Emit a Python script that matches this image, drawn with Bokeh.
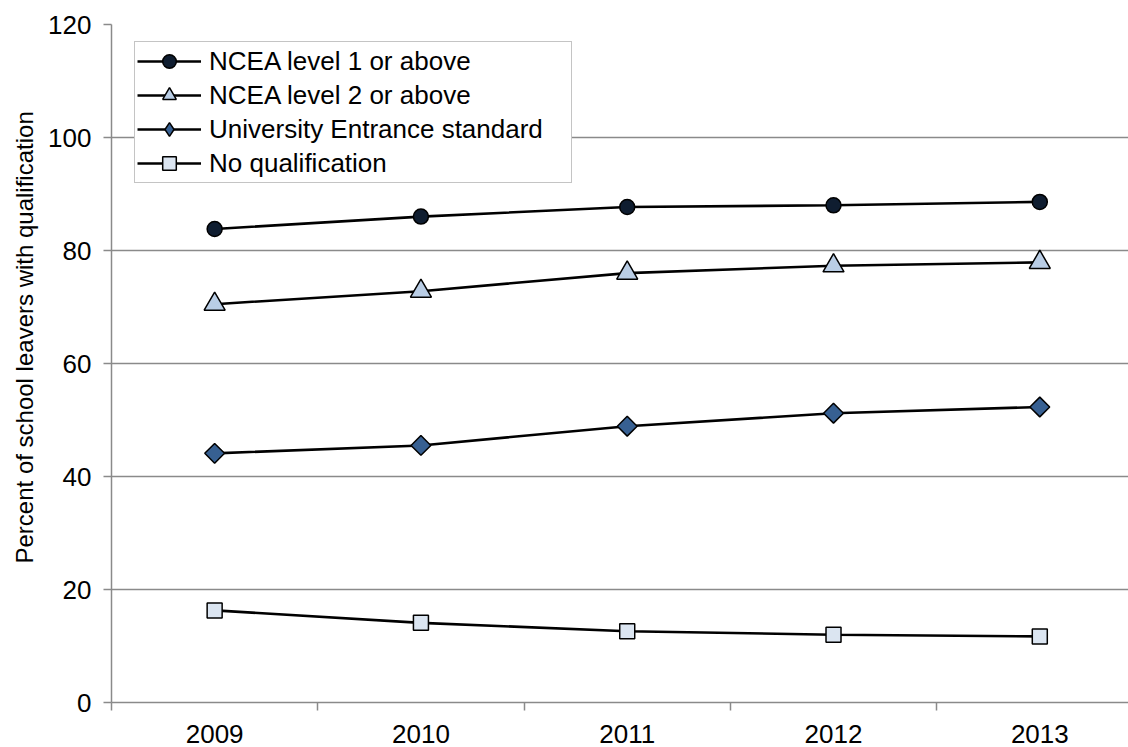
from bokeh.plotting import figure
from bokeh.models import (Range1d, FixedTicker, Legend, LegendItem, Title,
                          CustomJSTickFormatter)
from bokeh.embed import file_html
from bokeh.resources import INLINE
import math

# School leavers by highest attainment, percent
years = [2009, 2010, 2011, 2012, 2013]
ncea_l1 = [83.8, 86.0, 87.7, 88.0, 88.6]
ncea_l2 = [70.5, 72.8, 76.0, 77.3, 77.9]
univ_entrance = [44.1, 45.5, 48.9, 51.2, 52.3]
no_qual = [16.3, 14.1, 12.6, 12.0, 11.7]

series_names = ["NCEA level 1 or above", "NCEA level 2 or above",
                "University Entrance standard", "No qualification"]
y_ticks = [0, 20, 40, 60, 80, 100, 120]

FONT = "Liberation Sans"
GRID = "#8a8a8a"

p = figure(width=1128, height=747, output_backend="svg", toolbar_location=None,
           x_range=Range1d(2008.5, 2013.43), y_range=Range1d(0, 120),
           min_border_left=110, min_border_right=0, min_border_top=24,
           min_border_bottom=45)
p.outline_line_color = None
p.background_fill_color = "white"
p.border_fill_color = "white"

# x axis: labels at the year, tick marks between categories
p.xaxis.ticker = FixedTicker(ticks=years,
                             minor_ticks=[y - 0.5 for y in years] + [years[-1] + 0.5])
p.xaxis.major_tick_line_color = None
p.xaxis.major_tick_out = 0
p.xaxis.major_tick_in = 0
p.xaxis.minor_tick_out = 8
p.xaxis.minor_tick_in = 0
p.xaxis.minor_tick_line_color = GRID
p.xaxis.minor_tick_line_width = 1.5
p.xaxis.major_label_standoff = 14
p.xaxis.formatter = CustomJSTickFormatter(code="return tick.toFixed(0);")

p.yaxis.ticker = FixedTicker(ticks=y_ticks, minor_ticks=[])
p.yaxis.major_tick_out = 8
p.yaxis.major_tick_in = 0
p.yaxis.major_tick_line_color = GRID
p.yaxis.major_tick_line_width = 1.5
p.yaxis.major_label_standoff = 12

for ax in (p.xaxis, p.yaxis):
    ax.axis_line_color = GRID
    ax.axis_line_width = 1.5
    ax.major_label_text_font = FONT
    ax.major_label_text_font_size = "26px"
    ax.major_label_text_color = "black"

p.xgrid.grid_line_color = None
p.ygrid.grid_line_color = GRID
p.ygrid.grid_line_width = 1.5

# y title, starting a little above the bottom of the frame
p.add_layout(Title(text="Percent of school leavers  with qualification",
                   align="left", offset=139, standoff=16,
                   text_font=FONT, text_font_size="24px",
                   text_font_style="normal", text_color="black"), "left")

styles = [
    (ncea_l1, "circle", 15, "#0f1d30", 0, "circle"),
    (ncea_l2, "triangle", 21, "#b9cde5", 0, "triangle"),
    (univ_entrance, "square", 14, "#376092", math.pi / 4, "diamond"),
    (no_qual, "square", 15, "#dbe5f1", 0, "square"),
]

items = []
for name, (vals, marker, size, fill, ang, key_marker) in zip(series_names, styles):
    ln = p.line(years, vals, line_color="black", line_width=2.6)
    sc = p.scatter(years, vals, marker=marker, size=size, angle=ang,
                   fill_color=fill, line_color="black", line_width=1.5)
    if key_marker != marker:
        # zero-size copy that only supplies the legend key shape
        key = p.scatter(years, vals, marker=key_marker, size=0, fill_color=fill,
                        line_color="black", line_width=1.5)
        items.append(LegendItem(label=name, renderers=[ln, key]))
    else:
        items.append(LegendItem(label=name, renderers=[ln, sc]))

legend = Legend(items=items, location=(23, 519), orientation="vertical",
                padding=2, spacing=0, margin=0,
                glyph_width=64, glyph_height=34, label_height=34,
                label_width=360, label_standoff=8,
                label_text_font=FONT, label_text_font_size="26px",
                label_text_color="black",
                border_line_color=GRID, border_line_width=1.5,
                background_fill_color="white", background_fill_alpha=1)
p.add_layout(legend, "center")

open("out.html", "w").write(file_html(p, INLINE))
